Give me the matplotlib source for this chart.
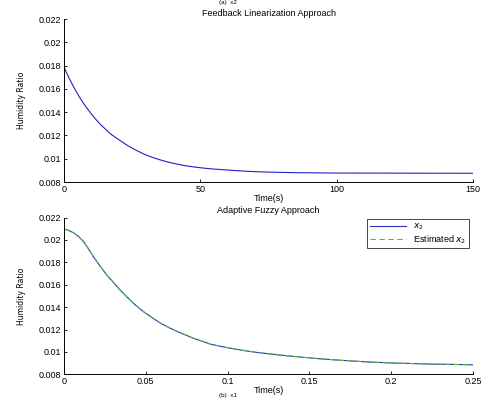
import numpy as np
import matplotlib.pyplot as plt

plt.rcParams['font.family'] = ['Liberation Sans', 'DejaVu Sans']

# feedback linearization: x2 vs time (s)
t_fl = [0, 0, 2, 4, 6, 8, 10.75, 13, 16.9, 20, 23, 26, 29, 32, 35, 38, 41, 44,
        47.4, 51, 55, 60, 65, 70, 75, 85, 100, 150]
x2_fl = [0.0167, 0.01786, 0.01686, 0.01597, 0.01517, 0.01447, 0.01363, 0.01303,
         0.01216, 0.01165, 0.01118, 0.01078, 0.01043, 0.01015, 0.00992, 0.00972,
         0.00956, 0.00942, 0.0093, 0.0092, 0.00911, 0.00903, 0.00895, 0.00889,
         0.00885, 0.0088, 0.00877, 0.00875]

# adaptive fuzzy: x2 and estimated x2 vs time (s)
t_af = [0, 0.003, 0.006, 0.009, 0.012, 0.015, 0.018, 0.022, 0.026, 0.030, 0.034,
        0.038, 0.043, 0.0485, 0.054, 0.059, 0.065, 0.07, 0.075, 0.079, 0.085, 0.09,
        0.1, 0.11, 0.118, 0.13, 0.14, 0.155, 0.17, 0.185, 0.2, 0.225, 0.25]
x2_af = [0.02098, 0.02085, 0.02062, 0.0203, 0.01985, 0.0192, 0.0185, 0.01768,
         0.0169, 0.01625, 0.01558, 0.01498, 0.01428, 0.01361, 0.01305, 0.01257,
         0.01212, 0.01178, 0.01148, 0.01123, 0.01093, 0.01068, 0.01038, 0.01013,
         0.00996, 0.00976, 0.00961, 0.00941, 0.00925, 0.00912, 0.00902, 0.00892, 0.00886]
x2_est = [0.02098, 0.02085, 0.02062, 0.0203, 0.01985, 0.0192, 0.0185, 0.01768,
          0.0169, 0.01625, 0.01558, 0.01498, 0.01428, 0.01361, 0.01305, 0.01257,
          0.01212, 0.01178, 0.01148, 0.01123, 0.01093, 0.01068, 0.01038, 0.01013,
          0.00996, 0.00976, 0.00961, 0.00941, 0.00925, 0.00912, 0.00902, 0.00892, 0.00886]

yticks = [0.008, 0.01, 0.012, 0.014, 0.016, 0.018, 0.02, 0.022]
yticklabels = ['0.008', '0.01', '0.012', '0.014', '0.016', '0.018', '0.02', '0.022']

fig = plt.figure(figsize=(4.86, 3.98), dpi=100, facecolor='white')
ax1 = fig.add_axes([0.1317, 0.5427, 0.8416, 0.4095])
ax2 = fig.add_axes([0.1317, 0.0593, 0.8416, 0.394])

ax1.plot(t_fl, x2_fl, color='#2020c8', linewidth=0.8)
ax1.set_xlim(0, 150)
ax1.set_xticks([0, 50, 100, 150])
ax1.set_title('Feedback Linearization Approach', fontsize=6.5, pad=2)

ax2.plot(t_af, x2_af, color='#3030c0', linewidth=0.8, label='$x_2$')
ax2.plot(t_af, x2_est, color='#55bb44', linewidth=0.8, linestyle='--',
         dashes=(5, 3), label='Estimated $x_2$')
ax2.set_xlim(0, 0.25)
ax2.set_xticks([0, 0.05, 0.1, 0.15, 0.2, 0.25])
ax2.set_xticklabels(['0', '0.05', '0.1', '0.15', '0.2', '0.25'])
ax2.set_title('Adaptive Fuzzy Approach', fontsize=6.5, pad=3)
leg = ax2.legend(loc='upper right', bbox_to_anchor=(0.99, 0.99), fontsize=6.5,
                 fancybox=False, framealpha=1, edgecolor='#444444',
                 handlelength=4, borderpad=0.3, labelspacing=0.1, borderaxespad=0)
leg.get_frame().set_linewidth(0.7)

for ax in (ax1, ax2):
    ax.set_ylim(0.008, 0.022)
    ax.set_yticks(yticks)
    ax.set_yticklabels(yticklabels)
    ax.spines['top'].set_visible(False)
    ax.spines['right'].set_visible(False)
    ax.spines['left'].set_linewidth(0.7)
    ax.spines['bottom'].set_linewidth(0.7)
    ax.tick_params(direction='in', length=2.5, width=0.6, labelsize=6.5, pad=2)
    ax.set_xlabel('Time(s)', fontsize=6.5, labelpad=0)
    ax.set_ylabel('Humidity Ratio', fontsize=5.5, labelpad=9,
                  family=['Liberation Sans Narrow', 'DejaVu Sans'])

# captions at the image edges
fig.text(0.47, 0.9995, '(a)  x2', fontsize=4.5, ha='center', va='top')
fig.text(0.47, 0.001, '(b)  x1', fontsize=4.5, ha='center', va='bottom')

fig.savefig('out.png', dpi=100)
